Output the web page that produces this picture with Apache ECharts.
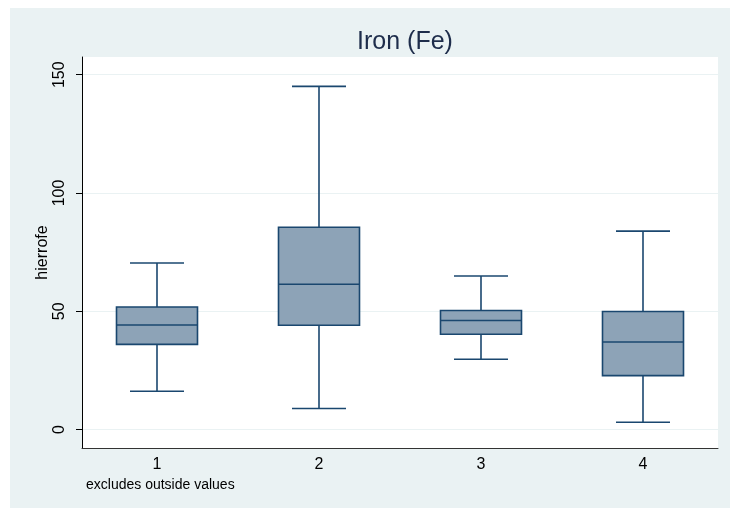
<!DOCTYPE html>
<html>
<head>
<meta charset="utf-8">
<script src="https://cdn.jsdelivr.net/npm/echarts@6/dist/echarts.min.js"></script>
<style>html,body{margin:0;padding:0;background:#fff;}#c{width:730px;height:509px;}</style>
</head>
<body>
<div id="c"></div>
<script>
// ---- data ----
const categories = ['1', '2', '3', '4'];
const lowerWhisker = [16.2, 8.9, 29.7, 3.1];
const q1 = [36.0, 44.1, 40.3, 22.8];
const median = [44.2, 61.4, 46.1, 37.0];
const q3 = [51.8, 85.5, 50.3, 49.9];
const upperWhisker = [70.4, 145.1, 64.9, 83.9];
const yTicks = [0, 50, 100, 150];

const titleText = 'Iron (Fe)';
const yName = 'hierrofe';
const noteText = 'excludes outside values';

const boxData = categories.map((c, i) => [i, lowerWhisker[i], q1[i], median[i], q3[i], upperWhisker[i]]);

const lineColor = '#1a476f';
const fillColor = '#8da3b7';
const bg = '#eaf2f3';
const fontFamily = '"Liberation Sans", Arial, Helvetica, sans-serif';

const chart = echarts.init(document.getElementById('c'), null, {renderer: 'canvas'});

const yMin = -7.8, yMax = 157.5;

chart.setOption({
  animation: false,
  backgroundColor: '#ffffff',
  textStyle: {fontFamily: fontFamily},
  graphic: [{
    type: 'rect', z: -100, silent: true,
    shape: {x: 10, y: 8, width: 720, height: 500},
    style: {fill: bg}
  }, {
    type: 'text', left: 86, top: 478,
    style: {text: noteText, font: '14px ' + fontFamily, fill: '#000'}
  }],
  title: {
    text: titleText,
    left: 400, top: 25,
    textAlign: 'center',
    textStyle: {fontSize: 25, fontWeight: 'normal', color: '#1e2d4b', fontFamily: fontFamily}
  },
  grid: [
    {left: 82, right: 12, top: 57, bottom: 61, show: true, backgroundColor: '#ffffff', borderWidth: 0, containLabel: false},
    {left: 76, right: 6, top: 57, bottom: 61, show: false, containLabel: false}
  ],
  xAxis: [
    {gridIndex: 0, type: 'category', data: categories, boundaryGap: true,
     axisLine: {show: true, onZero: false, lineStyle: {color: '#333', width: 1}},
     axisTick: {show: false}, axisLabel: {show: false}, splitLine: {show: false}},
    {gridIndex: 1, type: 'category', data: categories, boundaryGap: true,
     axisLine: {show: false, onZero: false}, axisTick: {show: false},
     axisLabel: {show: true, margin: 9, fontSize: 16, color: '#000', fontFamily: fontFamily},
     splitLine: {show: false}}
  ],
  yAxis: [
    {gridIndex: 0, type: 'value', min: yMin, max: yMax,
     name: yName, nameLocation: 'middle', nameGap: 31, nameMoveOverlap: false,
     nameTextStyle: {fontSize: 16, color: '#000', fontFamily: fontFamily},
     axisLine: {show: true, lineStyle: {color: '#000', width: 1}},
     axisTick: {show: true, length: 6, customValues: yTicks, lineStyle: {color: '#000'}},
     axisLabel: {show: true, rotate: 90, margin: 14, fontSize: 16, color: '#000', customValues: yTicks, fontFamily: fontFamily},
     splitLine: {show: true, lineStyle: {color: bg, width: 1.2}}},
    {gridIndex: 1, type: 'value', min: yMin, max: yMax, show: false}
  ],
  series: [{
    type: 'custom',
    xAxisIndex: 1, yAxisIndex: 1,
    data: boxData,
    encode: {x: 0, y: [1, 2, 3, 4, 5]},
    renderItem: function (params, api) {
      const idx = api.value(0);
      const lo = api.coord([idx, api.value(1)]);
      const b1 = api.coord([idx, api.value(2)]);
      const md = api.coord([idx, api.value(3)]);
      const b3 = api.coord([idx, api.value(4)]);
      const hi = api.coord([idx, api.value(5)]);
      const band = api.size([1, 0])[0];
      const hw = band * 0.25, cw = band / 6;
      const x = lo[0];
      const ls = {stroke: lineColor, lineWidth: 1.6, fill: null};
      return {
        type: 'group',
        children: [
          {type: 'line', shape: {x1: x, y1: b3[1], x2: x, y2: hi[1]}, style: ls},
          {type: 'line', shape: {x1: x, y1: b1[1], x2: x, y2: lo[1]}, style: ls},
          {type: 'line', shape: {x1: x - cw, y1: hi[1], x2: x + cw, y2: hi[1]}, style: ls},
          {type: 'line', shape: {x1: x - cw, y1: lo[1], x2: x + cw, y2: lo[1]}, style: ls},
          {type: 'rect', shape: {x: x - hw, y: b3[1], width: hw * 2, height: b1[1] - b3[1]},
           style: {fill: fillColor, stroke: lineColor, lineWidth: 1.6}},
          {type: 'line', shape: {x1: x - hw, y1: md[1], x2: x + hw, y2: md[1]}, style: ls}
        ]
      };
    }
  }]
});
</script>
</body>
</html>
